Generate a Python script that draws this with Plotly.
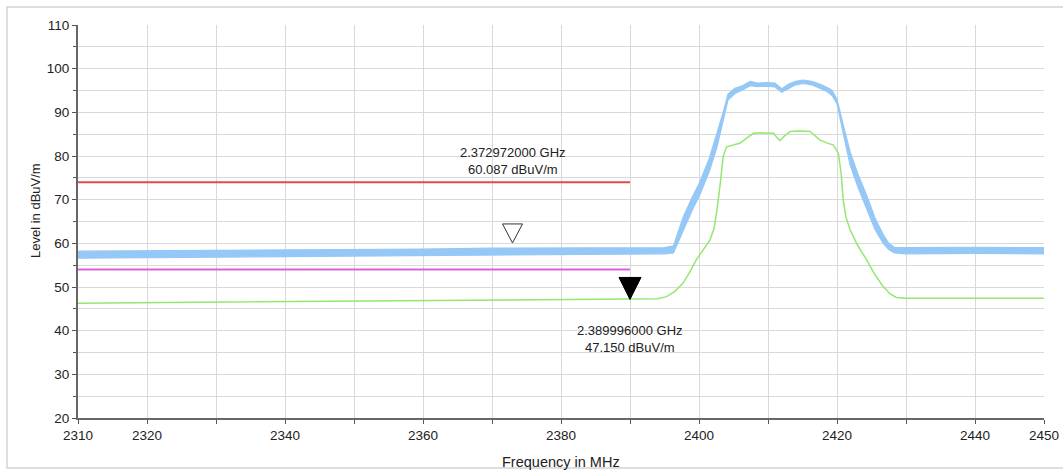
import plotly.graph_objects as go

# ---------------- data ----------------
blue_freq = [2310, 2320, 2330, 2340, 2350, 2360, 2370, 2380, 2390, 2395, 2396.3, 2397.7,
             2399, 2400.1, 2401.5, 2402.6, 2403.5, 2404.2, 2405.2, 2406.3, 2407.4, 2408.5,
             2409.8, 2411, 2412, 2413, 2414, 2415.1, 2416.3, 2417.5, 2418.6, 2419.3, 2420,
             2421, 2421.9, 2423, 2424.3, 2425.5, 2426.7, 2427.5, 2428.3, 2430, 2440, 2450]
blue_upper = [58.2, 58.3, 58.3, 58.5, 58.5, 58.7, 58.9, 58.9, 58.9, 59.0, 59.4, 66.0,
              70.5, 74.0, 79.5, 85.0, 90.0, 94.2, 95.5, 96.1, 97.1, 96.7,
              96.8, 96.7, 95.4, 96.5, 97.1, 97.4, 97.1, 96.5, 95.7, 95.0, 93.0,
              86.5, 81.0, 76.0, 71.0, 65.8, 62.0, 60.0, 59.1, 59.0, 59.1, 59.0]
blue_lower = [56.6, 56.7, 56.8, 56.9, 57.0, 57.1, 57.3, 57.4, 57.5, 57.6, 57.8, 63.0,
              67.5, 71.0, 76.5, 82.0, 88.0, 92.8, 94.3, 95.1, 96.1, 95.9,
              96.0, 95.8, 94.6, 95.5, 96.3, 96.6, 96.3, 95.5, 94.7, 93.8, 92.0,
              84.5, 78.0, 73.0, 68.0, 63.2, 60.0, 58.6, 57.8, 57.6, 57.7, 57.6]

green_freq = [2310, 2330, 2350, 2370, 2390, 2394, 2395.3, 2396.5, 2397.7, 2398.7, 2399.6,
              2400.6, 2401.6, 2402.2, 2402.6, 2403.1, 2403.5, 2404.0, 2405.0, 2405.9, 2407.0,
              2407.9, 2409, 2410.8, 2411.7, 2412.4, 2413.2, 2414.5, 2416.1, 2417.5, 2418.5,
              2419.5, 2420.2, 2420.6, 2420.9, 2421.3, 2421.9, 2423, 2424.3, 2425.5, 2426.7,
              2427.7, 2428.6, 2430, 2440, 2450]
green_level = [46.3, 46.5, 46.8, 47.0, 47.15, 47.3, 47.8, 49.0, 50.9, 53.5, 56.2,
               58.5, 60.8, 63.5, 67.6, 74.0, 79.8, 82.1, 82.5, 82.9, 84.2,
               85.2, 85.3, 85.2, 83.5, 84.6, 85.6, 85.7, 85.6, 83.7, 83.0,
               82.5, 80.6, 76.0, 69.9, 66.0, 63.1, 59.5, 56.2, 52.8, 50.1,
               48.4, 47.6, 47.4, 47.4, 47.4]

limit_start = 2310
limit_end = 2390
limit_levels = [74, 54]
limit_colors = ["#e04a4a", "#dc62dc"]

marker_freq = [2372.972, 2389.996]
marker_level = [60.087, 47.150]

x_tick_vals = [2310, 2320, 2330, 2340, 2350, 2360, 2370, 2380, 2390, 2400, 2410, 2420, 2430, 2440, 2450]
x_tick_text = ["2310", "2320", "", "2340", "", "2360", "", "2380", "", "2400", "", "2420", "", "2440", "2450"]
y_tick_vals = [20, 30, 40, 50, 60, 70, 80, 90, 100, 110]

# ---------------- figure ----------------
FONT = "Liberation Sans, Arial, sans-serif"
TXT = "#222222"
W, H = 1063, 470
L, R, T, B = 78, 19, 25, 52
PW, PH = W - L - R, H - T - B
BLUE = "#95c8f6"

fig = go.Figure()

# blue noisy trace drawn as its envelope band
fig.add_trace(go.Scatter(x=blue_freq, y=blue_lower, mode="lines",
                         line=dict(color=BLUE, width=1.2), showlegend=False, hoverinfo="skip"))
fig.add_trace(go.Scatter(x=blue_freq, y=blue_upper, mode="lines", fill="tonexty",
                         fillcolor=BLUE, line=dict(color=BLUE, width=1.2),
                         showlegend=False))

# green trace
fig.add_trace(go.Scatter(x=green_freq, y=green_level, mode="lines",
                         line=dict(color="#93e870", width=1.5), showlegend=False))

# limit lines
for lvl, col in zip(limit_levels, limit_colors):
    fig.add_trace(go.Scatter(x=[limit_start, limit_end], y=[lvl, lvl], mode="lines",
                             line=dict(color=col, width=2), showlegend=False))

# markers (tip of triangle at the data point)
tri_styles = [dict(path="M -10,19 L 10,19 L 0,0 Z", fillcolor="white", line=dict(color="#333333", width=1)),
              dict(path="M -11,22 L 11,22 L 0,0 Z", fillcolor="black", line=dict(color="black", width=1))]
for f, lvl, st in zip(marker_freq, marker_level, tri_styles):
    fig.add_shape(type="path", xref="x", yref="y", xsizemode="pixel", ysizemode="pixel",
                  xanchor=f, yanchor=lvl, layer="above", **st)

ann_shift = [82, -40]
for f, lvl, sh in zip(marker_freq, marker_level, ann_shift):
    fig.add_annotation(x=f, y=lvl, xref="x", yref="y", showarrow=False,
                       text=f"{f/1000:.9f} GHz<br>{lvl:.3f} dBuV/m",
                       yshift=sh, yanchor="middle", xanchor="center",
                       font=dict(family=FONT, size=13, color=TXT))

# axis titles as annotations
fig.add_annotation(xref="paper", yref="paper", x=0.5, y=(418 - 462) / PH, showarrow=False,
                   text="Frequency in MHz", yanchor="middle", xanchor="center",
                   font=dict(family=FONT, size=14.5, color=TXT))
fig.add_annotation(xref="paper", yref="paper", x=(35 - L) / PW, y=(418 - 211) / PH, showarrow=False,
                   text="Level in dBuV/m", textangle=-90, yanchor="middle", xanchor="center",
                   font=dict(family=FONT, size=13, color=TXT))

# outer frame
fig.add_shape(type="rect", xref="paper", yref="paper",
              x0=(7 - L) / PW, x1=(1075 - L) / PW, y0=(418 - 468) / PH, y1=(418 - 7) / PH,
              line=dict(color="#d4d4d4", width=1.5), fillcolor="rgba(0,0,0,0)", layer="below")

fig.update_xaxes(range=[2310, 2450], tickmode="array", tickvals=x_tick_vals, ticktext=x_tick_text,
                 showgrid=True, gridcolor="#d9d9d9", gridwidth=1, automargin=False,
                 showline=True, linecolor="#666666", linewidth=2,
                 ticks="outside", ticklen=4, tickcolor="#555555", tickwidth=1,
                 tickfont=dict(family=FONT, size=13.5, color=TXT), zeroline=False)
fig.update_yaxes(range=[20, 110], tickmode="array", tickvals=y_tick_vals, automargin=False,
                 showgrid=True, gridcolor="#d9d9d9", gridwidth=1,
                 showline=True, linecolor="#666666", linewidth=2,
                 ticks="outside", ticklen=4, tickcolor="#555555", tickwidth=1,
                 minor=dict(dtick=5, tick0=20, showgrid=True, gridcolor="#d9d9d9", gridwidth=1,
                            ticks="outside", ticklen=3, tickcolor="#555555"),
                 tickfont=dict(family=FONT, size=13.5, color=TXT), zeroline=False)

fig.update_layout(width=W, height=H, margin=dict(l=L, r=R, t=T, b=B, autoexpand=False),
                  paper_bgcolor="white", plot_bgcolor="white", showlegend=False,
                  font=dict(family=FONT, color=TXT))

fig.write_html("out.html")
